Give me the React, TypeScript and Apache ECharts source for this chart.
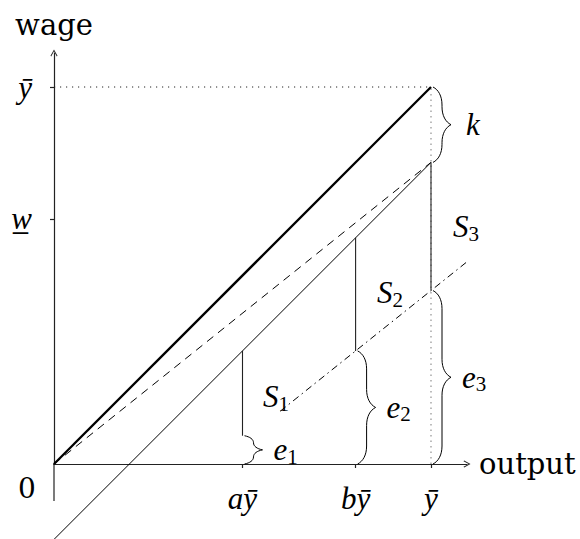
import React, { useEffect, useRef } from 'react';
import * as echarts from 'echarts';

// ---- axis ticks / labels ----
const X_TICK_VALUES = [5, 8, 10];
const X_TICK_LABELS = ['aȳ', 'bȳ', 'ȳ'];
const Y_TICK_VALUES = [6.5, 10];
const Y_TICK_LABELS = ['w\u0332', 'ȳ'];

// ---- axis extensions below / left of the origin ----
const X_AXIS_EXT = [[-1.061, 0], [0, 0]];
const Y_AXIS_EXT = [[0, -0.981], [0, 0]];

// ---- curves ----
const FULL_LINE = [[0, 0], [10, 10]];
const DASHED_LINE = [[0, 0], [10, 8]];
const THIN_LINE = [[0, -2], [10, 8]];
const S_LINE = [[6, 1.4], [12, 6.2]];
const DOTTED_H = [[0, 10], [10, 10]];
const DOTTED_V = [[10, 0], [10, 10]];

// vertical segments: [x, yFrom, yTo]
const SEGMENTS = [[5, 0.75, 3], [8, 3, 6], [10, 4.6, 8]];

// braces: [x, yFrom, yTo]
const BRACES = [[10, 8, 10], [10, 0, 4.6], [8, 0, 3], [5, 0, 0.75]];
const BRACE_LABELS = [['k', ''], ['e', '3'], ['e', '2'], ['e', '1']];

// S labels (anchor in data units)
const S_LABEL_POINTS = [[5.89, 1.78], [8.91, 4.54], [10.93, 6.29]];
const S_LABELS = [['S', '1'], ['S', '2'], ['S', '3']];

const X_MAX = 10.955;
const Y_MAX = 10.902;

const MATH = 'Liberation Serif';
const TEXT = 'DejaVu Serif';
const MAIN_SIZE = 31;
const SUB_SIZE = 21;
const ARROW = 'path://M5,0L10,9L9,10L5,2.6L1,10L0,9Z';

let measureCtx: CanvasRenderingContext2D | null = null;
function textWidth(t: string, font: string) {
  if (!measureCtx) measureCtx = document.createElement('canvas').getContext('2d');
  if (!measureCtx) return t.length * 14;
  measureCtx.font = font;
  return measureCtx.measureText(t).width;
}

// italic main symbol + upright subscript, vertically centred on y
function mathLabel(main: string, sub: string, x: number, y: number, align: 'left' | 'center') {
  const wMain = textWidth(main, `italic ${MAIN_SIZE}px "${MATH}"`);
  const wSub = sub ? textWidth(sub, `${SUB_SIZE}px "${MATH}"`) : 0;
  const total = wMain + wSub;
  const x0 = align === 'center' ? x - total / 2 : x;
  const children: any[] = [
    {
      type: 'text',
      x: x0,
      y: y,
      style: {
        text: main,
        fontFamily: MATH,
        fontStyle: 'italic',
        fontSize: MAIN_SIZE,
        fill: '#000',
        align: 'left',
        verticalAlign: 'middle',
      },
    },
  ];
  if (sub) {
    children.push({
      type: 'text',
      x: x0 + wMain,
      y: y + 7,
      style: {
        text: sub,
        fontFamily: MATH,
        fontSize: SUB_SIZE,
        fill: '#000',
        align: 'left',
        verticalAlign: 'middle',
      },
    });
  }
  return { type: 'group', children };
}

function bracePath(x0: number, yb: number, yt: number, a: number) {
  const L = yb - yt;
  const s = Math.min(a, L / 4);
  const m = L / 2;
  const P = (u: number, t: number) => `${(x0 + u).toFixed(2)},${(yb - t).toFixed(2)}`;
  return (
    `M${P(0, 0)} C${P(0.3 * a, 0.15 * s)} ${P(0.5 * a, 0.5 * s)} ${P(0.5 * a, s)} ` +
    `L${P(0.5 * a, m - s)} C${P(0.5 * a, m - 0.5 * s)} ${P(0.7 * a, m - 0.15 * s)} ${P(a, m)} ` +
    `C${P(0.7 * a, m + 0.15 * s)} ${P(0.5 * a, m + 0.5 * s)} ${P(0.5 * a, m + s)} ` +
    `L${P(0.5 * a, L - s)} C${P(0.5 * a, L - 0.5 * s)} ${P(0.3 * a, L - 0.15 * s)} ${P(0, L)}`
  );
}

function lineSeries(data: number[][], lineStyle: any, z = 2) {
  return {
    type: 'line',
    data,
    symbol: 'none',
    clip: false,
    silent: true,
    z,
    lineStyle,
  };
}

const axisColor = '#222';
const labelStyle = {
  fontFamily: MATH,
  fontStyle: 'italic',
  fontSize: MAIN_SIZE,
  color: '#000',
};

const option: any = {
  animation: false,
  backgroundColor: '#fff',
  grid: { left: 54, right: 113, top: 53, bottom: 75, containLabel: false, outerBoundsMode: 'none' },
  xAxis: {
    type: 'value',
    min: 0,
    max: X_MAX,
    splitLine: { show: false },
    axisLine: {
      lineStyle: { color: axisColor, width: 1.2 },
      symbol: ['none', ARROW],
      symbolSize: [9, 7],
    },
    axisTick: { show: true, customValues: X_TICK_VALUES, length: 4, lineStyle: { color: axisColor, width: 1.2 } },
    axisLabel: {
      customValues: X_TICK_VALUES,
      formatter: (v: number) => X_TICK_LABELS[X_TICK_VALUES.indexOf(v)],
      margin: 34,
      verticalAlign: 'middle',
      ...labelStyle,
    },
    name: 'output',
    nameLocation: 'end',
    nameGap: 12,
    nameTextStyle: { fontFamily: TEXT, fontSize: 29, color: '#000' },
  },
  yAxis: {
    type: 'value',
    min: 0,
    max: Y_MAX,
    splitLine: { show: false },
    axisLine: {
      lineStyle: { color: axisColor, width: 1.2 },
      symbol: ['none', ARROW],
      symbolSize: [9, 7],
    },
    axisTick: { show: true, customValues: Y_TICK_VALUES, length: 4, lineStyle: { color: axisColor, width: 1.2 } },
    axisLabel: {
      customValues: Y_TICK_VALUES,
      formatter: (v: number) => Y_TICK_LABELS[Y_TICK_VALUES.indexOf(v)],
      margin: 22,
      align: 'right',
      verticalAlign: 'middle',
      ...labelStyle,
    },
    name: 'wage',
    nameLocation: 'end',
    nameGap: 14,
    nameTextStyle: { fontFamily: TEXT, fontSize: 29, color: '#000', align: 'center' },
  },
  series: [
    lineSeries(X_AXIS_EXT, { color: axisColor, width: 1.2 }, 1),
    lineSeries(Y_AXIS_EXT, { color: axisColor, width: 1.2 }, 1),
    lineSeries(DOTTED_V, { color: '#999', width: 1.3, type: [1.5, 4] }, 1),
    lineSeries(DOTTED_H, { color: '#222', width: 1, type: [1.2, 4.8] }, 1),
    lineSeries(FULL_LINE, { color: '#000', width: 2.3 }),
    lineSeries(DASHED_LINE, { color: '#000', width: 1, type: [8, 6] }),
    lineSeries(THIN_LINE, { color: '#000', width: 1 }),
    lineSeries(S_LINE, { color: '#000', width: 1, type: [7, 4, 1.5, 4] }),
    {
      type: 'custom',
      data: SEGMENTS,
      encode: { x: 0, y: [1, 2] },
      clip: false,
      silent: true,
      z: 3,
      renderItem: (params: any, api: any) => {
        const x = api.value(0);
        const p1 = api.coord([x, api.value(1)]);
        const p2 = api.coord([x, api.value(2)]);
        return {
          type: 'line',
          shape: { x1: p1[0], y1: p1[1], x2: p2[0], y2: p2[1] },
          style: { stroke: '#222', lineWidth: 1.1 },
        };
      },
    },
    {
      type: 'custom',
      data: BRACES,
      encode: { x: 0, y: [1, 2] },
      clip: false,
      silent: true,
      z: 3,
      renderItem: (params: any, api: any) => {
        const x = api.value(0);
        const pb = api.coord([x, api.value(1)]);
        const pt = api.coord([x, api.value(2)]);
        const a = 18;
        const x0 = pb[0] + 2;
        const lab = BRACE_LABELS[params.dataIndex];
        const gap = lab[1] ? 11 : 15;
        return {
          type: 'group',
          children: [
            {
              type: 'path',
              shape: { pathData: bracePath(x0, pb[1], pt[1], a) },
              style: { stroke: '#000', fill: 'none', lineWidth: 1 },
            },
            mathLabel(lab[0], lab[1], x0 + a + gap, (pb[1] + pt[1]) / 2, 'left'),
          ],
        };
      },
    },
    {
      type: 'custom',
      data: S_LABEL_POINTS,
      encode: { x: 0, y: 1 },
      clip: false,
      silent: true,
      z: 4,
      renderItem: (params: any, api: any) => {
        const p = api.coord([api.value(0), api.value(1)]);
        const lab = S_LABELS[params.dataIndex];
        return mathLabel(lab[0], lab[1], p[0], p[1], 'center');
      },
    },
    {
      type: 'custom',
      data: [[0, 0]],
      encode: { x: 0, y: 1 },
      clip: false,
      silent: true,
      z: 4,
      renderItem: (params: any, api: any) => {
        const p = api.coord([api.value(0), api.value(1)]);
        return {
          type: 'text',
          x: p[0] - 27,
          y: p[1] + 24,
          style: {
            text: '0',
            fontFamily: TEXT,
            fontSize: 28,
            fill: '#000',
            align: 'center',
            verticalAlign: 'middle',
          },
        };
      },
    },
  ],
};

export default function App() {
  const ref = useRef<HTMLDivElement>(null);
  useEffect(() => {
    const chart = echarts.init(ref.current as HTMLDivElement, null, { renderer: 'svg' });
    chart.setOption(option);
    return () => chart.dispose();
  }, []);
  return (
    <div
      ref={ref}
      style={{ position: 'absolute', left: 0, top: 0, width: 580, height: 539, background: '#fff' }}
    />
  );
}
